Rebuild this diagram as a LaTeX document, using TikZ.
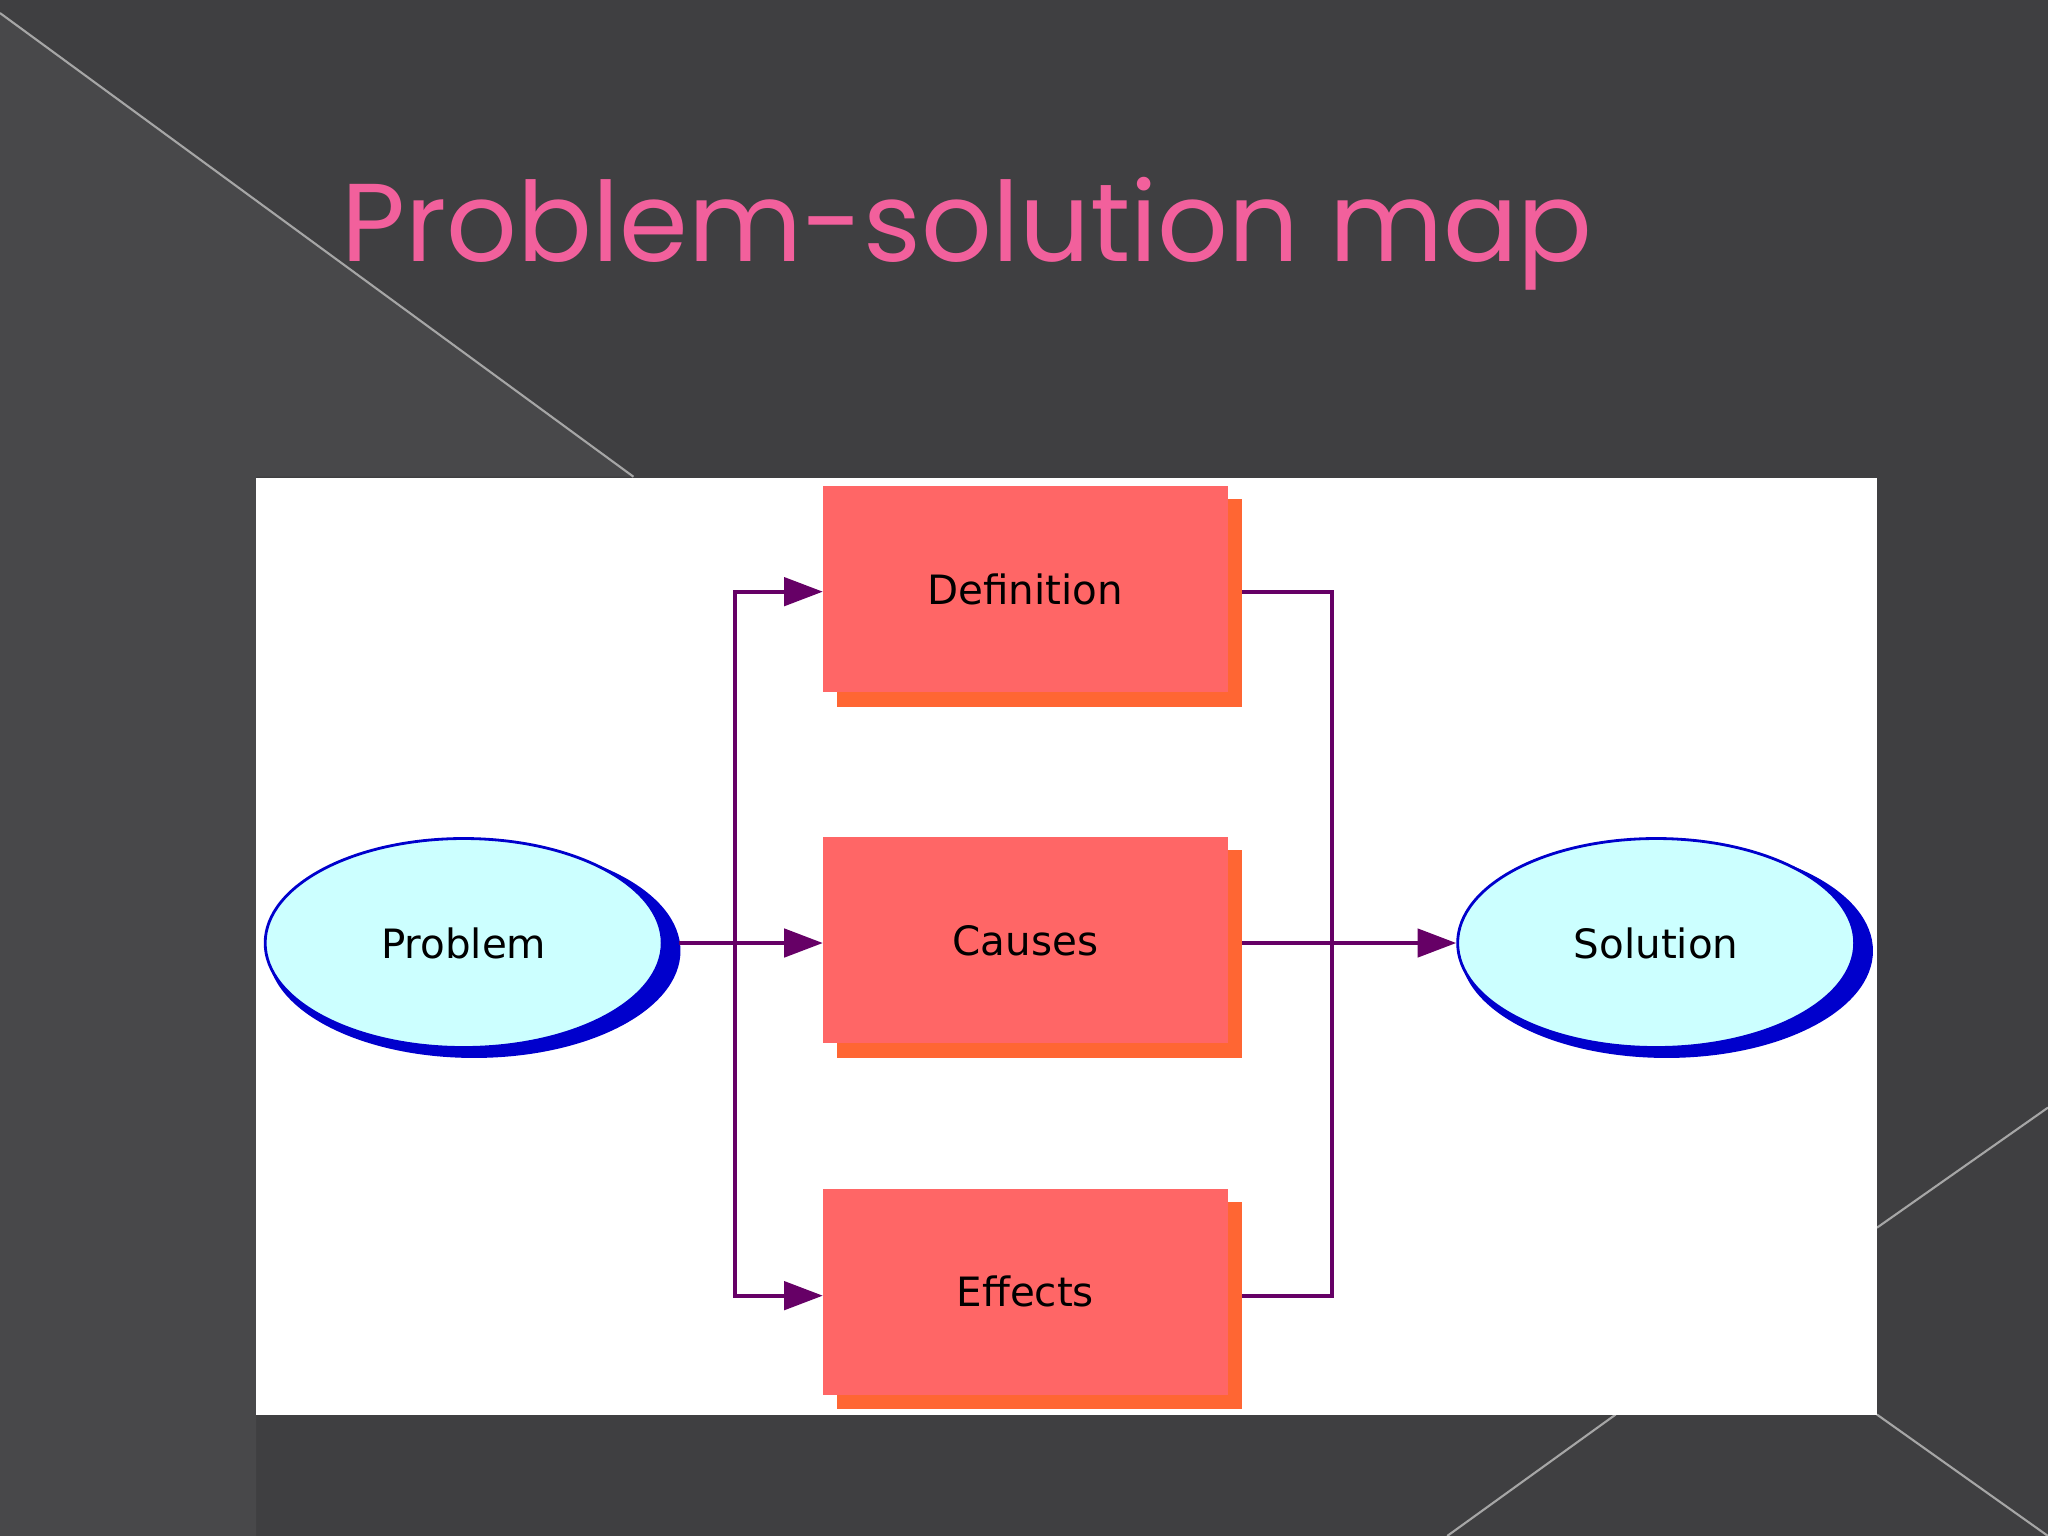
\documentclass[tikz,border=0pt]{standalone}
\usepackage{fontspec}
\setmainfont{DejaVu Sans}
\newfontfamily\titlefont{Poppins}
\usetikzlibrary{positioning,shapes.geometric,arrows.meta}
\definecolor{slate}{HTML}{3F3F41}
\definecolor{slatelight}{HTML}{48484A}
\definecolor{titlepink}{HTML}{F2609C}
\definecolor{boxred}{HTML}{FF6666}
\definecolor{boxshadow}{HTML}{FF6633}
\definecolor{ovalfill}{HTML}{CCFFFF}
\definecolor{ovalblue}{HTML}{0000CC}
\definecolor{linkpurple}{HTML}{660066}
\tikzset{
  stepbox/.style={rectangle, fill=boxred, minimum width=4.05cm, minimum height=2.06cm,
    inner sep=0pt, font=\fontsize{11.5}{13}\selectfont},
  oval/.style={ellipse, draw=ovalblue, thick, fill=ovalfill, minimum width=3.97cm,
    minimum height=2.09cm, inner sep=0pt, font=\fontsize{11.5}{13}\selectfont},
  link/.style={draw=linkpurple, line width=1.2pt},
  arrowlink/.style={link, -{Triangle[length=11pt,width=8pt]}}
}
\begin{document}
\begin{tikzpicture}[x=0.013061cm,y=-0.013061cm]
  \useasboundingbox (0,0) rectangle (1568,1176);
  % background
  \fill[slate] (0,0) rectangle (1568,1176);
  \fill[slatelight] (0,10) -- (485,365) -- (196,365) -- (196,1176) -- (0,1176) -- cycle;
  \draw[gray!70, line width=0.6pt] (0,10) -- (485,365);
  \draw[gray!70, line width=0.6pt] (1437,940) -- (1568,848);
  \draw[gray!70, line width=0.6pt] (1108,1176) -- (1237,1083);
  \draw[gray!70, line width=0.6pt] (1437,1083) -- (1568,1176);
  % title
  \node[titlepink, font=\titlefont\fontsize{31.5}{36}\selectfont, anchor=base west] (title) at (252,200) {Problem-solution map};
  % panel
  \fill[white] (196,366) rectangle (1437,1083);
  % boxes
  \foreach \name/\txt/\yy in {def/Definition/451, cau/Causes/720, eff/Effects/989} {
    \fill[boxshadow] (641,\yy-69) rectangle (951,\yy+90);
    \node[stepbox] (\name) at (785,\yy) {\txt};
  }
  % ovals
  \fill[ovalblue] (363,728) ellipse [x radius=158, y radius=82];
  \node[oval] (prob) at (355,722) {Problem};
  \fill[ovalblue] (1276,728) ellipse [x radius=158, y radius=82];
  \node[oval] (sol) at (1268,722) {Solution};
  % connectors
  \coordinate (split) at (563,722);
  \coordinate (merge) at (1020,722);
  \coordinate (defout) at (951,453);
  \coordinate (cauout) at (951,722);
  \coordinate (effout) at (951,992);
  \draw[link] (520,722) -- (split);
  \draw[arrowlink] (split) |- (630,453);
  \draw[arrowlink] (split) -- (630,722);
  \draw[arrowlink] (split) |- (630,992);
  \draw[link] (defout) -| (merge);
  \draw[link] (effout) -| (merge);
  \draw[arrowlink] (cauout) -- (sol.west);
\end{tikzpicture}
\end{document}
